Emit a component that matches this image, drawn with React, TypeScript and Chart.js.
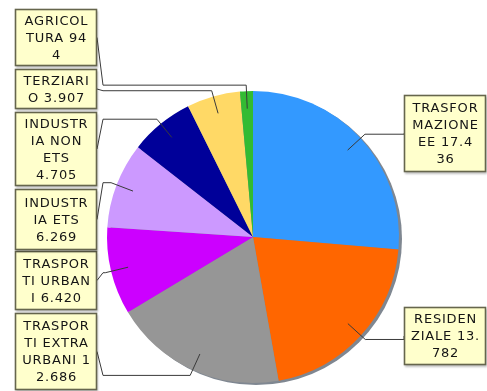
import React, { useEffect, useRef } from "react";
import { Chart, registerables } from "chart.js";

Chart.register(...registerables);

const categories = [
  "TRASFORMAZIONE EE",
  "RESIDENZIALE",
  "TRASPORTI EXTRA URBANI",
  "TRASPORTI URBANI",
  "INDUSTRIA ETS",
  "INDUSTRIA NON ETS",
  "TERZIARIO",
  "AGRICOLTURA",
];
const values = [17436, 13782, 12686, 6420, 6269, 4705, 3907, 944];
const labelLines = [
  ["TRASFOR", "MAZIONE", "EE 17.4", "36"],
  ["RESIDEN", "ZIALE 13.", "782"],
  ["TRASPOR", "TI EXTRA", "URBANI 1", "2.686"],
  ["TRASPOR", "TI URBAN", "I 6.420"],
  ["INDUSTR", "IA ETS", "6.269"],
  ["INDUSTR", "IA NON", "ETS", "4.705"],
  ["TERZIARI", "O 3.907"],
  ["AGRICOL", "TURA 94", "4"],
];
const colors = [
  "#3399ff",
  "#ff6600",
  "#969696",
  "#cc00ff",
  "#cc99ff",
  "#000099",
  "#ffd966",
  "#33bb33",
];

// label box layout [x, y, w, h]
const boxes = [
  [404, 95, 82, 77],
  [404, 307, 82, 58],
  [15, 313, 82, 77],
  [15, 251, 82, 59],
  [15, 189, 82, 61],
  [15, 112, 82, 74],
  [15, 69, 82, 40],
  [15, 9, 82, 57],
];

const boxPlugin = {
  id: "boxLabels",
  beforeDatasetsDraw(chart: any) {
    const ctx = chart.ctx;
    const el = chart.getDatasetMeta(0).data[0] as any;
    if (!el) return;
    ctx.save();
    ctx.fillStyle = "#7f8791";
    ctx.beginPath();
    ctx.arc(el.x + 3, el.y + 2, el.outerRadius, 0, Math.PI * 2);
    ctx.fill();
    ctx.restore();
  },
  afterDatasetsDraw(chart: any) {
    const ctx = chart.ctx;
    const meta = chart.getDatasetMeta(0);
    ctx.save();
    meta.data.forEach((el: any, i: number) => {
      const mid = (el.startAngle + el.endAngle) / 2;
      const R = el.outerRadius;
      const tx = el.x + Math.cos(mid) * R * 0.88;
      const ty = el.y + Math.sin(mid) * R * 0.88;
      const ex = el.x + Math.cos(mid) * (R + 6);
      const ey = el.y + Math.sin(mid) * (R + 6);
      const [bx, by, bw, bh] = boxes[i];
      const right = bx > el.x;
      const edgeX = right ? bx : bx + bw;
      const edgeY = by + bh / 2;
      const kneeX = right ? edgeX : edgeX + 6;
      ctx.strokeStyle = "#3a3a3a";
      ctx.lineWidth = 1;
      ctx.beginPath();
      ctx.moveTo(edgeX, edgeY);
      ctx.lineTo(kneeX, ey);
      ctx.lineTo(ex, ey);
      ctx.lineTo(tx, ty);
      ctx.stroke();
    });
    meta.data.forEach((el: any, i: number) => {
      const [bx, by, bw, bh] = boxes[i];
      ctx.save();
      ctx.shadowColor = "rgba(0,0,0,0.25)";
      ctx.shadowOffsetX = 1;
      ctx.shadowOffsetY = 2;
      ctx.shadowBlur = 2;
      ctx.fillStyle = "#ffffcc";
      ctx.fillRect(bx, by, bw, bh);
      ctx.restore();
      ctx.strokeStyle = "#66664d";
      ctx.lineWidth = 1.6;
      ctx.strokeRect(bx + 0.5, by + 0.5, bw - 1, bh - 1);
      const lines = labelLines[i];
      ctx.fillStyle = "#151515";
      ctx.font = "13px 'DejaVu Sans'";
      (ctx as any).letterSpacing = "0.8px";
      ctx.textAlign = "center";
      ctx.textBaseline = "middle";
      const lh = 17;
      const top = by + (bh - lines.length * lh) / 2;
      lines.forEach((t, k) => {
        ctx.fillText(t, bx + bw / 2 + 0.5, top + lh * k + lh / 2 + 1);
      });
    });
    ctx.restore();
  },
};

export default function App() {
  const ref = useRef<HTMLCanvasElement>(null);
  useEffect(() => {
    if (!ref.current) return;
    const chart = new Chart(ref.current, {
      type: "pie",
      data: {
        labels: categories,
        datasets: [
          {
            data: values,
            backgroundColor: colors,
            borderWidth: 0,
          },
        ],
      },
      options: {
        responsive: false,
        animation: false,
        layout: { padding: { left: 107, right: 88, top: 91, bottom: 8 } },
        plugins: {
          legend: { display: false },
          tooltip: { enabled: false },
        },
      },
      plugins: [boxPlugin],
    });
    return () => chart.destroy();
  }, []);
  return (
    <div
      style={{
        position: "fixed",
        left: 0,
        top: 0,
        width: 487,
        height: 391,
        background: "#fff",
      }}
    >
      <canvas ref={ref} width={487} height={391} />
    </div>
  );
}
